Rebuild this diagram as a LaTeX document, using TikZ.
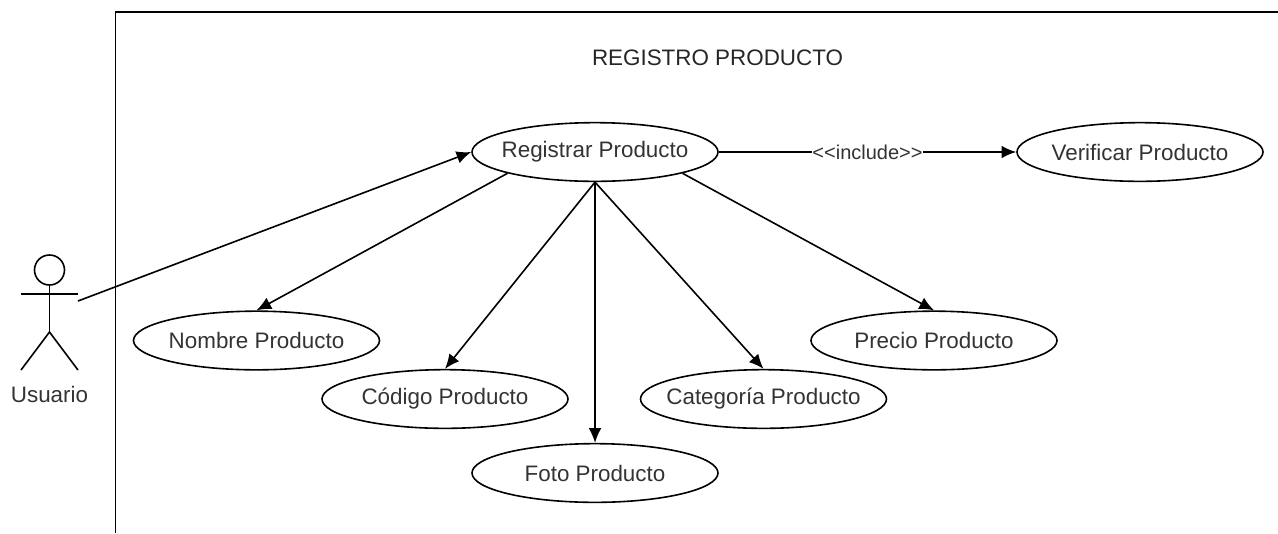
\documentclass[tikz,border=0pt]{standalone}
\usepackage{fontspec}
\setmainfont{Liberation Sans}
\usepackage{tikz}
\usetikzlibrary{shapes.geometric,arrows.meta}
\tikzset{>={Latex[length=11pt,width=9.5pt]}}
\tikzset{usecase/.style={draw,ellipse,line width=1.2pt,minimum width=184.5pt,minimum height=44pt,inner xsep=-30pt,inner ysep=0pt,font=\fontsize{16.8pt}{19pt}\selectfont,text=black!80}}
\tikzset{enlace/.style={->,line width=1.2pt}}
\tikzset{palo/.style={line width=1.2pt}}

\begin{document}
\begin{tikzpicture}[x=0.75pt,y=-0.75pt]
	\useasboundingbox (0,0) rectangle (1278,533);

	% marco
	\coordinate (marcoA) at (115.5,533);
	\coordinate (marcoB) at (115.5,12);
	\coordinate (marcoC) at (1278,12);
	\draw [line width=1.2pt] (marcoA) -- (marcoB) -- (marcoC);
	\node [font=\fontsize{16.8pt}{19pt}\selectfont,text=black!85] (titulo) at (717.5,58) {REGISTRO PRODUCTO};

	% casos de uso
	\node [usecase] (registrar) at (595,152) {Registrar Producto};
	\node [usecase] (verificar) at (1140,152) {Verificar Producto};
	\node [usecase] (nombre) at (256.5,340.5) {Nombre Producto};
	\node [usecase] (codigo) at (445,399) {Código Producto};
	\node [usecase] (foto) at (595,473) {Foto Producto};
	\node [usecase] (categoria) at (763.5,399) {Categoría Producto};
	\node [usecase] (precio) at (934,340.5) {Precio Producto};

	% actor
	\node [circle,draw,line width=1.2pt,minimum size=22.5pt,inner sep=0pt] (cabeza) at (49.5,270) {};
	\coordinate (cadera) at (49.5,332);
	\coordinate (brazoA) at (21,294);
	\coordinate (brazoB) at (78,294);
	\coordinate (pieA) at (21,370);
	\coordinate (pieB) at (78,370);
	\coordinate (mano) at (78,301);
	\draw [palo] (cabeza.south) -- (cadera);
	\draw [palo] (brazoA) -- (brazoB);
	\draw [palo] (pieA) -- (cadera) -- (pieB);
	\node [font=\fontsize{16.8pt}{19pt}\selectfont,text=black!80] (usuario) at (49.5,394) {Usuario};

	% conectores
	\draw [enlace] (mano) -- (registrar.west);
	\draw [enlace] (registrar.south west) -- (nombre.north);
	\draw [enlace] (registrar.south) -- (codigo.north);
	\draw [enlace] (registrar.south) -- (foto.north);
	\draw [enlace] (registrar.south) -- (categoria.north);
	\draw [enlace] (registrar.south east) -- (precio.north);
	\draw [enlace] (registrar.east) -- node [fill=white,inner sep=0.5pt,font=\fontsize{15pt}{17pt}\selectfont,text=black!80] (incluye) {{<}{<}include{>}{>}} (verificar.west);
\end{tikzpicture}
\end{document}
